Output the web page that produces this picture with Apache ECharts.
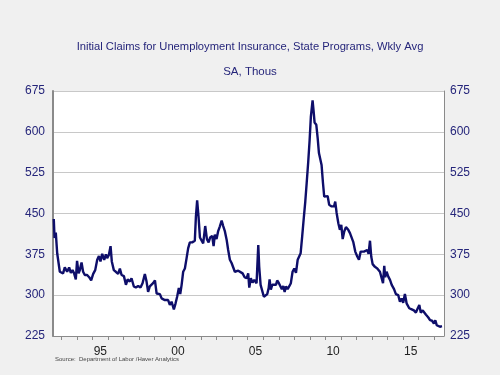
<!DOCTYPE html>
<html>
<head>
<meta charset="utf-8">
<script src="https://cdn.jsdelivr.net/npm/echarts@6/dist/echarts.min.js"></script>
<style>html,body{margin:0;padding:0;background:#F0F0F0}#c{width:500px;height:375px}</style>
</head>
<body>
<div id="c"></div>
<script>
const titleText = 'Initial Claims for Unemployment Insurance, State Programs, Wkly Avg';
const subtitleText = 'SA, Thous';
const sourceText = 'Source:  Department of Labor /Haver Analytics';

// decimal-year dates of sampled weeks
const weeks = [
1992.50,1992.55,1992.63,1992.72,1992.89,1993.00,1993.10,1993.21,1993.36,1993.49,1993.60,1993.71,1993.81,1993.92,
1994.00,1994.10,1994.18,1994.29,1994.39,1994.50,1994.65,1994.78,1994.91,1995.04,1995.17,1995.30,1995.41,1995.51,
1995.62,1995.75,1995.86,1995.94,1996.05,1996.16,1996.24,1996.37,1996.50,1996.65,1996.76,1996.87,1997.02,1997.15,
1997.26,1997.40,1997.51,1997.66,1997.79,1997.94,1998.09,1998.22,1998.37,
1998.48,1998.58,1998.69,1998.80,1998.90,1999.02,1999.13,1999.23,1999.34,1999.45,1999.55,1999.66,1999.77,1999.87,
1999.98,2000.09,2000.24,2000.35,2000.45,2000.56,2000.65,2000.74,2000.84,2000.95,2001.06,2001.16,2001.27,2001.42,
2001.59,2001.66,2001.74,2001.83,2001.92,2002.03,2002.13,2002.26,2002.37,2002.48,2002.58,2002.71,2002.80,2002.88,
2002.99,2003.09,2003.20,2003.32,2003.42,2003.53,2003.64,2003.74,2003.85,2003.96,2004.06,2004.17,2004.28,2004.39,
2004.50,2004.67,2004.80,2004.93,2005.03,2005.10,2005.20,2005.31,2005.42,2005.57,2005.68,2005.74,2005.83,2005.93,
2006.04,2006.15,2006.26,2006.35,2006.41,2006.49,2006.58,2006.69,2006.82,2006.90,2007.01,2007.12,2007.20,2007.29,
2007.38,2007.46,2007.57,2007.67,2007.78,2007.89,2008.00,2008.11,2008.22,2008.32,2008.41,2008.51,2008.62,2008.71,
2008.80,2008.90,2008.99,2009.07,2009.18,2009.24,2009.31,2009.42,2009.51,2009.59,2009.68,2009.76,2009.85,2009.93,
2010.04,2010.15,2010.25,
2010.41,2010.56,2010.64,2010.73,2010.84,2010.94,2011.03,2011.12,2011.22,2011.33,2011.48,2011.59,2011.70,2011.80,
2011.93,2012.06,2012.17,2012.28,2012.38,2012.49,2012.60,2012.70,2012.79,2012.88,2012.96,2013.05,2013.20,2013.35,
2013.52,2013.63,2013.72,2013.80,2013.86,2013.95,2014.06,2014.17,2014.28,2014.43,2014.55,2014.70,2014.81,2014.92,
2015.02,2015.13,2015.24,2015.41,2015.57,2015.71,2015.84,2015.93,2016.06,2016.15,2016.28,2016.38,2016.49,2016.64,
2016.75,2016.88,2017.00,2017.09,2017.18,2017.28,2017.39,2017.52
];

// initial claims, thousands
const claims = [
440,405,415,377,343,346,340,351,343,351,341,346,340,329,
363,340,346,360,343,337,337,333,327,339,346,365,372,362,
376,365,375,368,374,390,362,346,343,339,349,337,335,319,
329,325,331,316,314,317,314,322,339,
325,306,316,319,322,327,303,306,302,294,297,291,288,291,
282,288,274,285,297,313,302,319,343,349,368,386,397,397,
400,444,474,444,406,403,395,427,403,397,406,409,390,411,
403,417,426,437,427,417,402,383,365,359,362,343,341,345,
346,340,333,331,340,314,331,323,328,322,392,352,319,316,
297,294,302,313,329,310,319,316,319,327,322,323,311,317,
306,316,311,316,322,343,349,341,365,365,377,408,444,472,
506,545,585,628,658,640,617,613,588,561,558,539,506,481,
484,482,466,
463,463,472,451,432,420,429,403,417,425,420,414,415,398,
380,371,365,380,377,380,377,383,376,400,371,357,352,349,
343,341,322,354,333,343,334,328,319,311,302,300,288,294,
286,302,285,276,274,272,268,274,282,268,272,274,264,259,
254,253,248,254,245,248,242,243
];

const yearTicks = [1993,1994,1995,1996,1997,1998,1999,2000,2001,2002,2003,2004,2005,
  2006,2007,2008,2009,2010,2011,2012,2013,2014,2015,2016,2017];
const labelYears = [1995,2000,2005,2010,2015];
const labelText = ['95','00','05','10','15'];
const yTicks = [225,300,375,450,525,600,675];

const data = weeks.map((w, i) => [w, claims[i]]);
const labelPos = labelYears.map(y => y + 0.5);

const navy = '#25257A';
const chart = echarts.init(document.getElementById('c'), null, {renderer: 'canvas'});
chart.setOption({
  backgroundColor: '#F0F0F0',
  animation: false,
  title: [
    {text: titleText, left: 'center', top: 36,
     textStyle: {fontFamily: 'Liberation Sans, Arial', fontSize: 11.2, fontWeight: 'normal', color: navy}},
    {text: subtitleText, left: 'center', top: 61,
     textStyle: {fontFamily: 'Liberation Sans, Arial', fontSize: 11.5, fontWeight: 'normal', color: navy}}
  ],
  graphic: [
    {type: 'text', left: 55, top: 356,
     style: {text: sourceText, fontFamily: 'Liberation Sans, Arial', fontSize: 6, fill: '#444'}}
  ],
  grid: {left: 53, right: 56, top: 91, bottom: 39, show: true, backgroundColor: '#FFFFFF', borderWidth: 0},
  xAxis: {
    type: 'value', min: 1992.45, max: 2017.65,
    axisLine: {show: true, lineStyle: {color: '#8A8A8A', width: 1}},
    axisTick: {show: true, customValues: yearTicks, length: 4, lineStyle: {color: '#8A8A8A'}},
    axisLabel: {
      show: true, customValues: labelPos, margin: 10,
      fontFamily: 'Liberation Sans, Arial', fontSize: 12, color: '#222',
      formatter: v => { const i = labelPos.findIndex(p => Math.abs(p - v) < 1e-6); return i >= 0 ? labelText[i] : ''; }
    },
    splitLine: {show: false}
  },
  yAxis: [
    {type: 'value', position: 'left', min: yTicks[0], max: yTicks[yTicks.length - 1], interval: 75,
     axisLine: {show: true, lineStyle: {color: '#8A8A8A', width: 2}},
     axisTick: {show: false},
     axisLabel: {margin: 8, fontFamily: 'Liberation Sans, Arial', fontSize: 12, color: navy},
     splitLine: {show: true, lineStyle: {color: '#C8C8C8', width: 1}}},
    {type: 'value', position: 'right', min: yTicks[0], max: yTicks[yTicks.length - 1], interval: 75,
     axisLine: {show: true, lineStyle: {color: '#8A8A8A', width: 1}},
     axisTick: {show: false},
     axisLabel: {margin: 6, fontFamily: 'Liberation Sans, Arial', fontSize: 12, color: navy},
     splitLine: {show: false}}
  ],
  series: [{
    type: 'line', data: data, yAxisIndex: 0, showSymbol: false, symbol: 'none',
    lineStyle: {color: '#0E0E6A', width: 2.4}, z: 3
  }]
});
</script>
</body>
</html>
